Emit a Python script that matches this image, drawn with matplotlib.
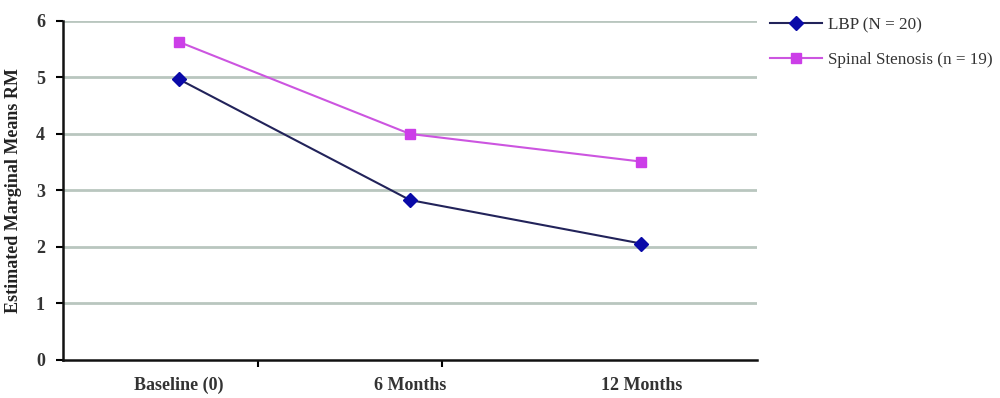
import matplotlib
matplotlib.use("Agg")
import matplotlib.pyplot as plt

categories = ["Baseline (0)", "6 Months", "12 Months"]
lbp = [4.97, 2.83, 2.06]
stenosis = [5.63, 4.00, 3.51]
series_labels = ["LBP (N = 20)", "Spinal Stenosis (n = 19)"]
yticks = [0, 1, 2, 3, 4, 5, 6]

plt.rcParams['font.family'] = ['Liberation Serif', 'DejaVu Serif']

fig = plt.figure(figsize=(10, 3.98), dpi=100)
ax = fig.add_axes([0.063, 0.0955, 0.694, 0.852])

x = list(range(len(categories)))
for yv in yticks[1:]:
    ax.axhline(yv, color='#b9c6bf', lw=2.0, zorder=0)

l1, = ax.plot(x, lbp, color='#22235a', lw=1.5, marker='D', markersize=7,
              markerfacecolor='#0a0aa8', markeredgecolor='#0a0aa8', zorder=3)
l2, = ax.plot(x, stenosis, color='#cc55e0', lw=1.5, marker='s', markersize=7.5,
              markerfacecolor='#cc3ee8', markeredgecolor='#cc3ee8', zorder=3)

ax.set_xlim(-0.5, 2.5)
ax.set_ylim(0, 6)
ax.set_yticks(yticks)
ax.set_yticklabels([str(v) for v in yticks], fontsize=13, fontweight='bold', color='#333333')
ax.set_xticks(x)
ax.set_xticklabels(categories, fontsize=13, fontweight='bold', color='#333333')
ax.tick_params(axis='x', length=0, pad=12)
ax.tick_params(axis='y', length=5, width=1.5, direction='out', pad=8)
ax.set_xticks([0.345, 1.14], minor=True)
ax.tick_params(axis='x', which='minor', length=5, width=1.5, direction='out')

for s in ['top', 'right']:
    ax.spines[s].set_visible(False)
for s in ['left', 'bottom']:
    ax.spines[s].set_linewidth(1.8)
    ax.spines[s].set_color('#111111')

ax.set_ylabel("Estimated Marginal Means RM", fontsize=13, fontweight='bold',
              color='#222222', labelpad=10)

fig.legend([l1, l2], series_labels, loc='upper left', bbox_to_anchor=(0.755, 0.995),
           frameon=False, fontsize=12.3, handlelength=3.0, labelspacing=1.1,
           handletextpad=0.35, numpoints=1, labelcolor='#333333')

fig.savefig("out.png", dpi=100)
